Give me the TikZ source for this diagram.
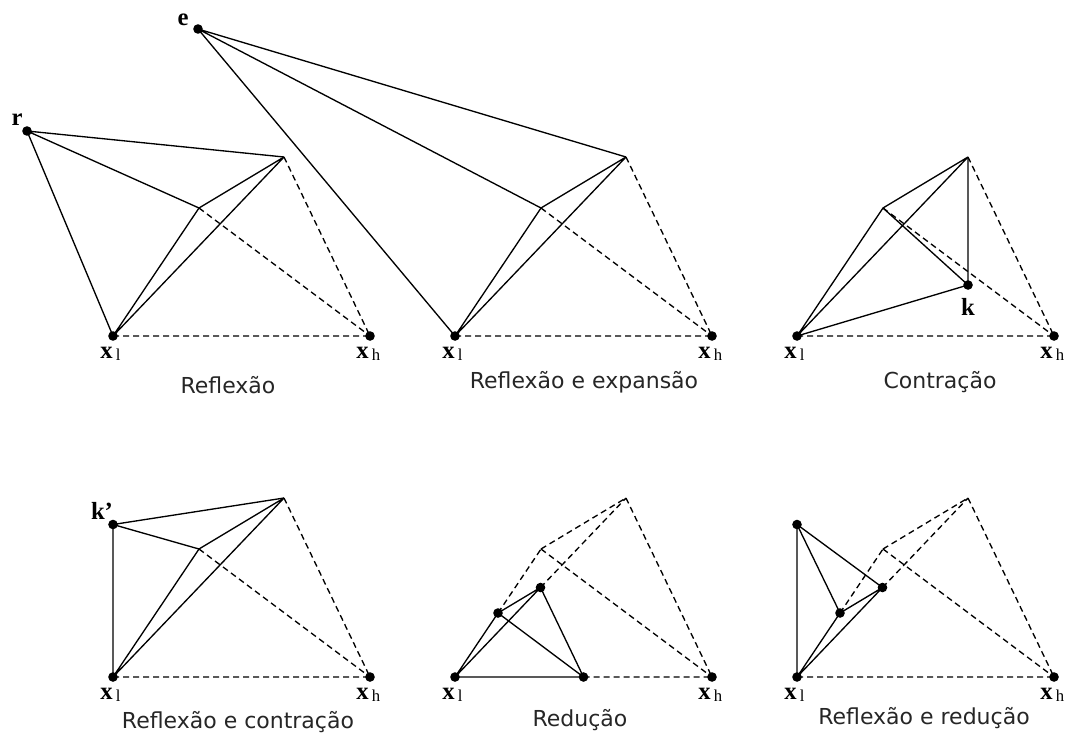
\documentclass[tikz,border=0pt]{standalone}
\usepackage{fontspec}
\setmainfont{Liberation Serif}
\newfontfamily\capfont{DejaVu Sans}
\usetikzlibrary{calc}
% vertex label: bold x with a lowered upright subscript
\newcommand\xsub[1]{\textbf{x}\kern2.4pt\raisebox{-2.2pt}{\fontsize{12.5}{12.5}\selectfont #1}}
% the four base vertices of a simplex, shifted by (#2,#3)
\newcommand\basesimplex[3]{%
  \coordinate (#1l) at (113+#2,336+#3);
  \coordinate (#1h) at (370+#2,336+#3);
  \coordinate (#1t) at (284+#2,157+#3);
  \coordinate (#1c) at (199+#2,208+#3);
}
\begin{document}
\begin{tikzpicture}[x=0.75pt,y=-0.75pt,
  edge/.style={line width=1pt},
  hidden/.style={line width=1pt, dash pattern=on 4.5pt off 3pt},
  vertex/.style={circle, fill, inner sep=0pt, minimum size=7.2pt},
  ptlabel/.style={font=\fontsize{18.5}{18.5}\selectfont\bfseries, inner sep=0pt},
  xlabel/.style={font=\fontsize{18.5}{18.5}\selectfont, inner sep=0pt, anchor=base west},
  caption/.style={font=\capfont\fontsize{16.5}{18}\selectfont, text=black!85, inner sep=0pt}]
\useasboundingbox (0,0) rectangle (1066,740);

% ---------- Reflexao ----------
\basesimplex{A}{0}{0}
\coordinate (r) at (27,131);
\draw[hidden] (Al) -- (Ah) (At) -- (Ah) (Ac) -- (Ah);
\draw[edge] (Al) -- (At) (Al) -- (Ac) (Ac) -- (At);
\draw[edge] (r) -- (Al) (r) -- (At) (r) -- (Ac);
\node[vertex] (Alv) at (Al) {};
\node[vertex] (Ahv) at (Ah) {};
\node[vertex] (rv) at (r) {};
\node[ptlabel] (rlab) at (17,120) {r};
\node[xlabel] (Allab) at (100,358) {\xsub{l}};
\node[xlabel] (Ahlab) at (356,358) {\xsub{h}};
\node[caption] (capA) at (228,385) {Reflexão};

% ---------- Reflexao e expansao ----------
\basesimplex{B}{342}{0}
\coordinate (e) at (198,29);
\draw[hidden] (Bl) -- (Bh) (Bt) -- (Bh) (Bc) -- (Bh);
\draw[edge] (Bl) -- (Bt) (Bl) -- (Bc) (Bc) -- (Bt);
\draw[edge] (e) -- (Bl) (e) -- (Bt) (e) -- (Bc);
\node[vertex] (Blv) at (Bl) {};
\node[vertex] (Bhv) at (Bh) {};
\node[vertex] (ev) at (e) {};
\node[ptlabel] (elab) at (183,20) {e};
\node[xlabel] (Bllab) at (442,358) {\xsub{l}};
\node[xlabel] (Bhlab) at (698,358) {\xsub{h}};
\node[caption] (capB) at (584,382) {Reflexão e expansão};

% ---------- Contracao ----------
\basesimplex{C}{684}{0}
\coordinate (k) at (968,285);
\draw[hidden] (Cl) -- (Ch) (Ct) -- (Ch) (Cc) -- (Ch);
\draw[edge] (Cl) -- (Ct) (Cl) -- (Cc) (Cc) -- (Ct);
\draw[edge] (Cc) -- (k) (Ct) -- (k) (Cl) -- (k);
\node[vertex] (Clv) at (Cl) {};
\node[vertex] (Chv) at (Ch) {};
\node[vertex] (kv) at (k) {};
\node[ptlabel] (klab) at (968,307) {k};
\node[xlabel] (Cllab) at (784,358) {\xsub{l}};
\node[xlabel] (Chlab) at (1040,358) {\xsub{h}};
\node[caption] (capC) at (940,382) {Contração};

% ---------- Reflexao e contracao ----------
\basesimplex{D}{0}{341}
\coordinate (kp) at (113,524.5);
\draw[hidden] (Dl) -- (Dh) (Dt) -- (Dh) (Dc) -- (Dh);
\draw[edge] (Dl) -- (Dt) (Dl) -- (Dc) (Dc) -- (Dt);
\draw[edge] (kp) -- (Dl) (kp) -- (Dt) (kp) -- (Dc);
\node[vertex] (Dlv) at (Dl) {};
\node[vertex] (Dhv) at (Dh) {};
\node[vertex] (kpv) at (kp) {};
\node[ptlabel] (kplab) at (102,511) {k’};
\node[xlabel] (Dllab) at (100,699) {\xsub{l}};
\node[xlabel] (Dhlab) at (356,699) {\xsub{h}};
\node[caption] (capD) at (238,722) {Reflexão e contração};

% ---------- Reducao ----------
\basesimplex{E}{342}{341}
\coordinate (Emh) at ($(El)!0.5!(Eh)$);
\coordinate (Emt) at ($(El)!0.5!(Et)$);
\coordinate (Emc) at ($(El)!0.5!(Ec)$);
\draw[hidden] (Emh) -- (Eh) (Et) -- (Eh) (Ec) -- (Eh) (Ec) -- (Et)
  (Emc) -- (Ec) (Emt) -- (Et);
\draw[edge] (El) -- (Emh) (El) -- (Emc) (El) -- (Emt)
  (Emc) -- (Emt) (Emc) -- (Emh) (Emt) -- (Emh);
\node[vertex] (Elv) at (El) {};
\node[vertex] (Ehv) at (Eh) {};
\node[vertex] (Emhv) at (Emh) {};
\node[vertex] (Emtv) at (Emt) {};
\node[vertex] (Emcv) at (Emc) {};
\node[xlabel] (Ellab) at (442,699) {\xsub{l}};
\node[xlabel] (Ehlab) at (698,699) {\xsub{h}};
\node[caption] (capE) at (580,720) {Redução};

% ---------- Reflexao e reducao ----------
\basesimplex{F}{684}{341}
\coordinate (Fk) at (797,524.5);
\coordinate (Fmt) at ($(Fl)!0.5!(Ft)$);
\coordinate (Fmc) at ($(Fl)!0.5!(Fc)$);
\draw[hidden] (Fl) -- (Fh) (Ft) -- (Fh) (Fc) -- (Fh) (Fc) -- (Ft)
  (Fmc) -- (Fc) (Fmt) -- (Ft);
\draw[edge] (Fk) -- (Fl) (Fk) -- (Fmc) (Fk) -- (Fmt)
  (Fl) -- (Fmc) (Fl) -- (Fmt) (Fmc) -- (Fmt);
\node[vertex] (Flv) at (Fl) {};
\node[vertex] (Fhv) at (Fh) {};
\node[vertex] (Fkv) at (Fk) {};
\node[vertex] (Fmtv) at (Fmt) {};
\node[vertex] (Fmcv) at (Fmc) {};
\node[xlabel] (Fllab) at (784,699) {\xsub{l}};
\node[xlabel] (Fhlab) at (1040,699) {\xsub{h}};
\node[caption] (capF) at (924,718) {Reflexão e redução};
\end{tikzpicture}
\end{document}
